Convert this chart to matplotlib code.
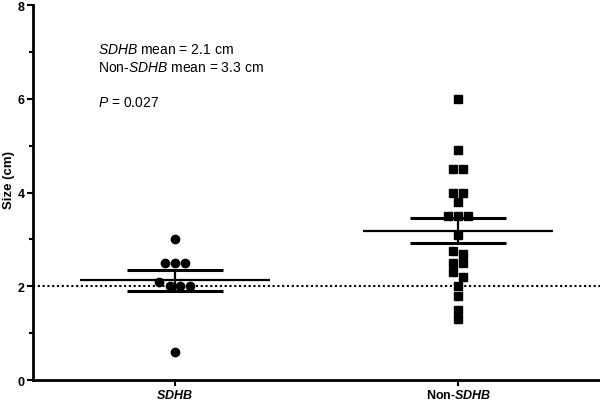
import numpy as np
import matplotlib
matplotlib.use("Agg")
import matplotlib.pyplot as plt

# Fonts: Arial-like look
plt.rcParams['font.family'] = ['Liberation Sans', 'DejaVu Sans']
plt.rcParams['mathtext.fontset'] = 'custom'
plt.rcParams['mathtext.rm'] = 'Liberation Sans'
plt.rcParams['mathtext.it'] = 'Liberation Sans:italic'
plt.rcParams['mathtext.bf'] = 'Liberation Sans:bold'
plt.rcParams['mathtext.bfit'] = 'Liberation Sans:bold:italic'

# Data (tumour size, cm)
groups = ['$\\mathbfit{SDHB}$', 'Non-$\\mathbfit{SDHB}$']
sdhb = [3.0, 2.5, 2.5, 2.5, 2.1, 2.0, 2.0, 2.0, 0.6]
non_sdhb = [6.0, 4.9, 4.5, 4.5, 4.0, 4.0, 3.8, 3.5, 3.5, 3.5, 3.1,
            2.75, 2.7, 2.5, 2.5, 2.3, 2.2, 2.0, 1.8, 1.5, 1.3]
reference_line = 2.0
notes = ['$\\mathit{SDHB}$ mean = 2.1 cm',
         'Non-$\\mathit{SDHB}$ mean = 3.3 cm',
         '$\\mathit{P}$ = 0.027']


def swarm_offsets(values, step=0.036, tol=0.15):
    # put points of similar value side by side in one row
    vals = sorted(values, reverse=True)
    rows = [[vals[0]]]
    for v in vals[1:]:
        if rows[-1][-1] - v <= tol:
            rows[-1].append(v)
        else:
            rows.append([v])
    ys, xs = [], []
    for row in rows:
        n = len(row)
        for i, v in enumerate(row):
            ys.append(v)
            xs.append((i - (n - 1) / 2) * step)
    return np.array(xs), np.array(ys)


fig = plt.figure(figsize=(6, 4.02), dpi=100)
ax = fig.add_axes([0.055, 0.052, 0.945, 0.933])

markers = ['o', 's']
for pos, (data, mk) in enumerate(zip([sdhb, non_sdhb], markers), start=1):
    dx, dy = swarm_offsets(data)
    ax.plot(pos + dx, dy, linestyle='none', marker=mk, color='black',
            markersize=6 if mk == 'o' else 5.5, zorder=3)
    arr = np.array(data)
    mean = arr.mean()
    sem = arr.std(ddof=1) / np.sqrt(len(arr))
    ax.hlines(mean, pos - 0.335, pos + 0.335, color='black', lw=1.6, zorder=4)
    ax.hlines([mean - sem, mean + sem], pos - 0.17, pos + 0.17,
              color='black', lw=2.2, zorder=4)
    ax.vlines(pos, mean - sem, mean + sem, color='black', lw=1.6, zorder=4)

# dotted reference at 2 cm
ax.axhline(reference_line, color='black', linestyle=(0, (1, 1.3)), lw=1.5, zorder=2)

ax.set_xlim(0.5, 2.5)
ax.set_ylim(0, 8)
ax.set_xticks([1, 2])
ax.set_xticklabels(groups, fontsize=9, fontweight='bold')
ax.set_yticks([0, 2, 4, 6, 8])
ax.set_yticks([1, 3, 5, 7], minor=True)
ax.tick_params(axis='y', labelsize=9, width=1.5, length=4, pad=2)
ax.tick_params(axis='y', which='minor', width=1.5, length=3)
ax.tick_params(axis='x', width=1.5, length=4, pad=2)
for lbl in ax.get_yticklabels():
    lbl.set_fontweight('bold')
ax.set_ylabel('Size (cm)', fontsize=9.5, fontweight='bold', va='center')
ax.yaxis.set_label_coords(-0.043, 0.536)

ax.spines['top'].set_visible(False)
ax.spines['right'].set_visible(False)
ax.spines['left'].set_linewidth(2)
ax.spines['bottom'].set_linewidth(2)

ax.text(0.73, 7.06, notes[0], fontsize=10, va='center', ha='left')
ax.text(0.73, 6.68, notes[1], fontsize=10, va='center', ha='left')
ax.text(0.73, 5.93, notes[2], fontsize=10, va='center', ha='left')

fig.savefig('out.png', dpi=100)
